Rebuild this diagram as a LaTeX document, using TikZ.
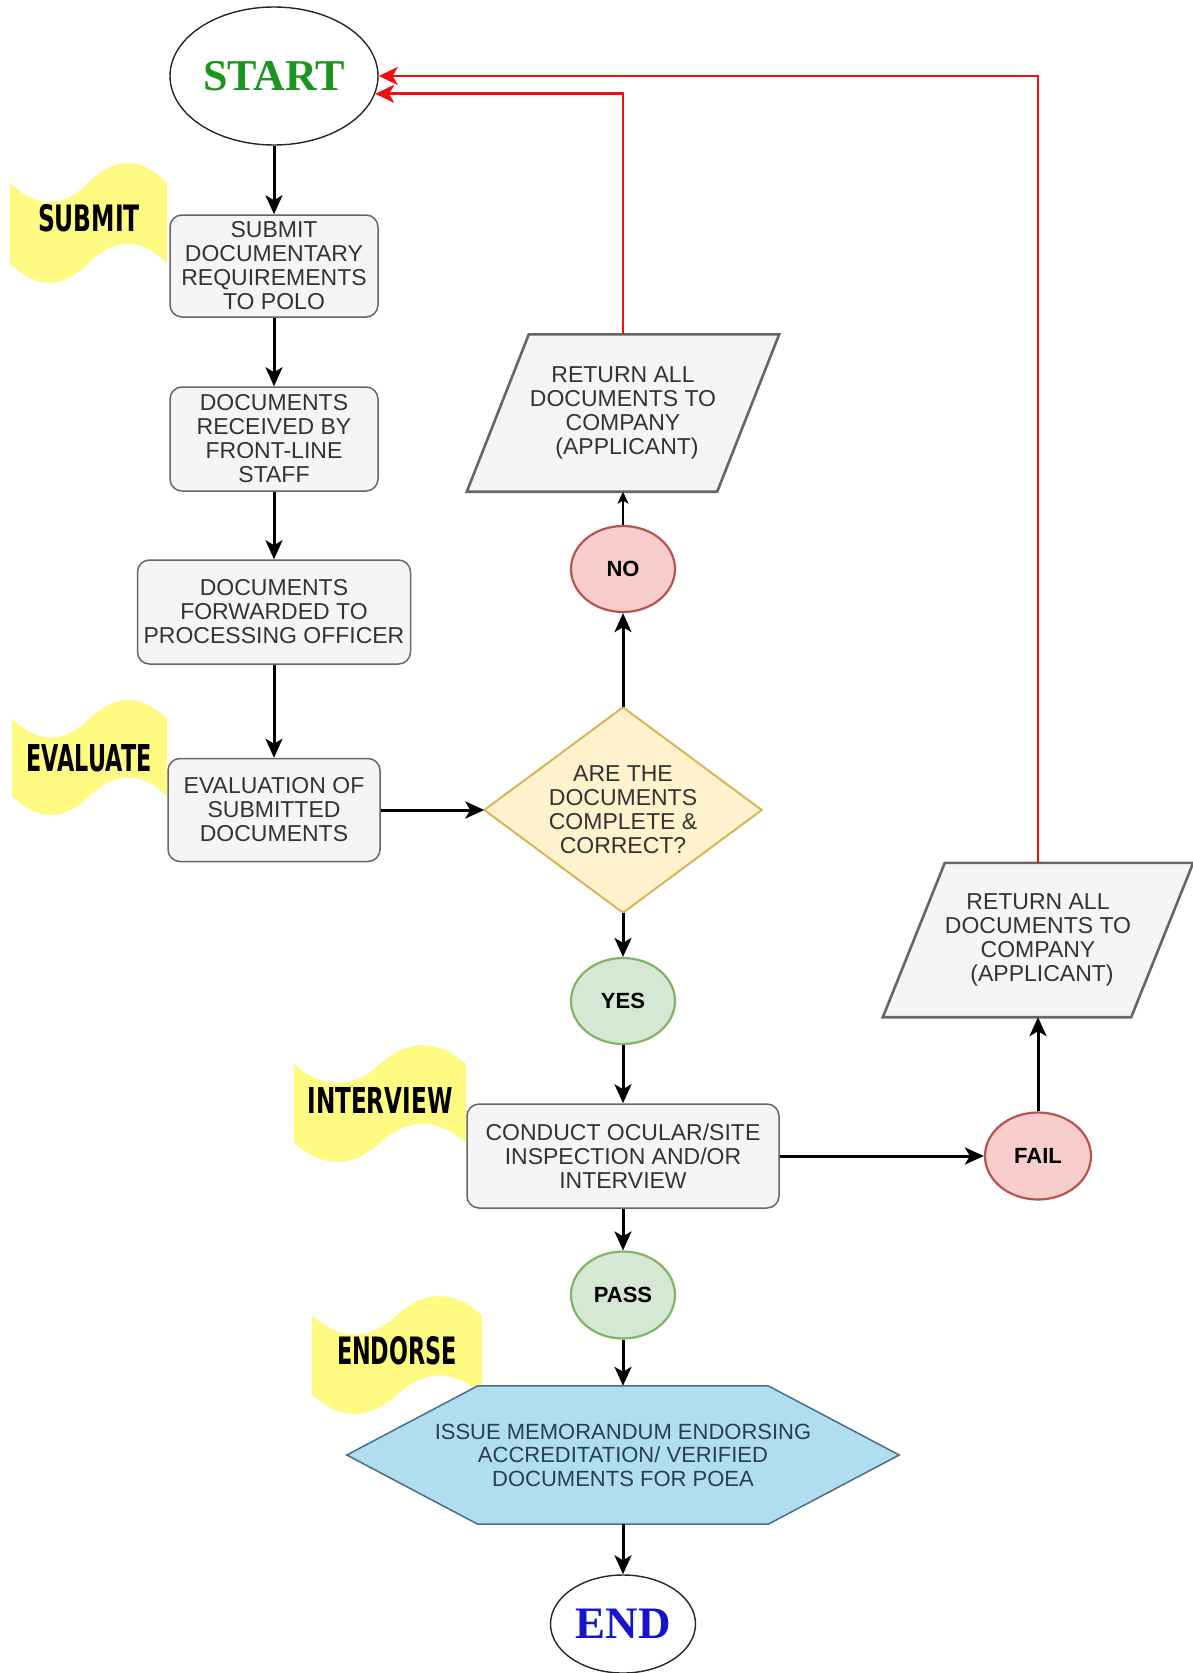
\documentclass[tikz,border=0pt]{standalone}
\usepackage{fontspec}
\usepackage{graphicx}
\setmainfont{Liberation Sans}
\newfontfamily\serifbold{Liberation Serif}
\newfontfamily\impactfont{DejaVu Sans}
\usetikzlibrary{shapes.geometric,arrows.meta,backgrounds,calc}

\definecolor{boxfill}{HTML}{F5F5F5}
\definecolor{boxdraw}{HTML}{666666}
\definecolor{boxtext}{HTML}{333333}
\definecolor{dfill}{HTML}{FFF2CC}
\definecolor{ddraw}{HTML}{D6B656}
\definecolor{rfill}{HTML}{F8CECC}
\definecolor{rdraw}{HTML}{B85450}
\definecolor{gfill}{HTML}{D5E8D4}
\definecolor{gdraw}{HTML}{82B366}
\definecolor{hfill}{HTML}{B1DDF0}
\definecolor{hdraw}{HTML}{4A6F85}
\definecolor{htext}{HTML}{28404E}
\definecolor{tapecol}{HTML}{FFFA82}
\definecolor{startgreen}{HTML}{1A961E}
\definecolor{endblue}{HTML}{1515CC}
\definecolor{redline}{HTML}{F01010}

\newcommand\tapeshape[4]{%
  \pgfmathsetmacro\tdy{0.35*#4}%
  \fill[tapecol] (#1,{#2+\tdy/2})
    .. controls ({#1+#3/6},{#2+1.1*\tdy}) and ({#1+#3/3},{#2+1.1*\tdy}) .. ({#1+#3/2},{#2+\tdy/2})
    .. controls ({#1+2*#3/3},{#2-0.1*\tdy}) and ({#1+5*#3/6},{#2-0.1*\tdy}) .. ({#1+#3},{#2+\tdy/2})
    -- ({#1+#3},{#2+#4-\tdy/2})
    .. controls ({#1+5*#3/6},{#2+#4-1.1*\tdy}) and ({#1+2*#3/3},{#2+#4-1.1*\tdy}) .. ({#1+#3/2},{#2+#4-\tdy/2})
    .. controls ({#1+#3/3},{#2+#4+0.1*\tdy}) and ({#1+#3/6},{#2+#4+0.1*\tdy}) .. (#1,{#2+#4-\tdy/2})
    -- cycle;}
\newcommand\impactlabel[3]{\resizebox{#1pt}{#2pt}{\impactfont\bfseries #3}}

\begin{document}
\begin{tikzpicture}[x=1pt,y=-1pt,
  proc/.style={draw=boxdraw, fill=boxfill, line width=1.5pt, rounded corners=12pt,
    text=boxtext, align=center, inner sep=0pt, font=\fontsize{23}{24}\selectfont},
  plain/.style={align=center, inner sep=0pt, text=boxtext, font=\fontsize{23}{24}\selectfont},
  circ/.style={ellipse, inner sep=0pt, line width=2.2pt, minimum width=104pt, minimum height=86pt,
    font=\bfseries\fontsize{22}{23}\selectfont},
  redc/.style={circ, draw=rdraw, fill=rfill},
  greenc/.style={circ, draw=gdraw, fill=gfill},
  term/.style={ellipse, draw=black!85, line width=1.4pt, fill=white, inner sep=0pt},
  arr/.style={draw=black, line width=3pt, -{Stealth[length=19pt,width=17pt,inset=5pt]}},
  thinarr/.style={draw=black, line width=1.6pt, -{Stealth[length=12pt,width=11pt,inset=3pt]}},
  redarr/.style={draw=redline, line width=2.8pt, -{Stealth[length=19pt,width=18pt,inset=5pt]}},
  paraline/.style={draw=boxdraw, fill=boxfill, line width=2.6pt, line join=miter},
  tagtext/.style={inner sep=0pt, text=black}
]
\useasboundingbox (0,0) rectangle (1193,1673);

% terminals
\node[term, minimum width=208pt, minimum height=138pt, text=startgreen,
  font=\serifbold\bfseries\fontsize{44}{44}\selectfont] (start) at (274,76) {START};
\node[term, minimum width=145pt, minimum height=98pt, text=endblue,
  font=\serifbold\bfseries\fontsize{45}{45}\selectfont] (end) at (623,1624) {END};

% process boxes
\node[proc, minimum width=208pt, minimum height=102pt] (submit) at (274,266)
  {SUBMIT\\DOCUMENTARY\\REQUIREMENTS\\TO POLO};
\node[proc, minimum width=208pt, minimum height=104pt] (received) at (274,439)
  {DOCUMENTS\\RECEIVED BY\\FRONT-LINE\\STAFF};
\node[proc, minimum width=273pt, minimum height=104pt] (forwarded) at (274,612)
  {DOCUMENTS\\FORWARDED TO\\PROCESSING OFFICER};
\node[proc, minimum width=212pt, minimum height=103pt] (eval) at (274,810)
  {EVALUATION OF\\SUBMITTED\\DOCUMENTS};
\node[proc, minimum width=312pt, minimum height=104pt] (conduct) at (623,1156)
  {CONDUCT OCULAR/SITE\\INSPECTION AND/OR\\INTERVIEW};

% decision
\node[plain, minimum width=277pt, minimum height=205pt] (dec) at (623,810)
  {ARE THE\\DOCUMENTS\\COMPLETE \&\\CORRECT?};

% return parallelograms (text holders)
\node[plain, minimum width=250pt, minimum height=157pt] (r1) at (623,413)
  {RETURN ALL\\DOCUMENTS TO\\COMPANY\hspace*{24pt}\\\hspace*{8pt}(APPLICANT)};
\node[plain, minimum width=248pt, minimum height=154pt] (r2) at (1038,940)
  {RETURN ALL\\DOCUMENTS TO\\COMPANY\hspace*{24pt}\\\hspace*{8pt}(APPLICANT)};

% hexagon
\node[plain, text=htext, font=\fontsize{22}{23.5}\selectfont, minimum width=552pt, minimum height=138pt] (hex) at (623,1455)
  {\raisebox{-5pt}{\parbox{552pt}{\centering ISSUE MEMORANDUM ENDORSING\\ACCREDITATION/ VERIFIED\\DOCUMENTS FOR POEA}}};

% circles
\node[redc] (no) at (623,569) {NO};
\node[greenc] (yes) at (623,1001) {YES};
\node[redc, minimum width=106pt, minimum height=87pt] (fail) at (1038,1156) {FAIL};
\node[greenc, minimum height=87pt] (pass) at (623,1295) {PASS};

% stage tags
\node[tagtext] (tsubmit) at (89,218) {\impactlabel{102}{27}{SUBMIT}};
\node[tagtext] (tevaluate) at (89,758) {\impactlabel{125}{27}{EVALUATE}};
\node[tagtext] (tinterview) at (380,1100) {\impactlabel{145}{26}{INTERVIEW}};
\node[tagtext] (tendorse) at (397,1351) {\impactlabel{120}{28}{ENDORSE}};

\begin{pgfonlayer}{background}
  \fill[white] (0,0) rectangle (1193,1673);
  \tapeshape{10}{161}{157}{124}
  \tapeshape{12}{698}{155}{119}
  \tapeshape{294}{1043}{172}{121}
  \tapeshape{312}{1294}{170}{122}
  \path[draw=ddraw, fill=dfill, line width=2pt, line join=miter]
    (dec.north) -- (dec.east) -- (dec.south) -- (dec.west) -- cycle;
  \path[paraline] ($(r1.north west)+(31,0)$) -- ($(r1.north east)+(31,0)$)
    -- ($(r1.south east)+(-31,0)$) -- ($(r1.south west)+(-31,0)$) -- cycle;
  \path[paraline] ($(r2.north west)+(31,0)$) -- ($(r2.north east)+(31,0)$)
    -- ($(r2.south east)+(-31,0)$) -- ($(r2.south west)+(-31,0)$) -- cycle;
  \path[draw=hdraw, fill=hfill, line width=1.5pt, line join=miter]
    (hex.west) -- ($(hex.north west)+(131,0)$) -- ($(hex.north east)+(-131,0)$)
    -- (hex.east) -- ($(hex.south east)+(-131,0)$) -- ($(hex.south west)+(131,0)$) -- cycle;
\end{pgfonlayer}

% connectors
\draw[arr] (start) -- (submit);
\draw[arr] (submit) -- (received);
\draw[arr] (received) -- (forwarded);
\draw[arr] (forwarded) -- (eval);
\draw[arr] (eval) -- (dec);
\draw[arr] (dec) -- (no);
\draw[thinarr] (no) -- (r1);
\draw[arr] (dec) -- (yes);
\draw[arr] (yes) -- (conduct);
\draw[arr] (conduct) -- (fail);
\draw[arr] (fail) -- (r2);
\draw[arr] (conduct) -- (pass);
\draw[arr] (pass) -- (hex);
\draw[arr] (hex) -- (end);
\draw[redarr] (r1.north) |- (start.-10.2);
\draw[redarr] (r2.north) |- (start.east);
\end{tikzpicture}
\end{document}
